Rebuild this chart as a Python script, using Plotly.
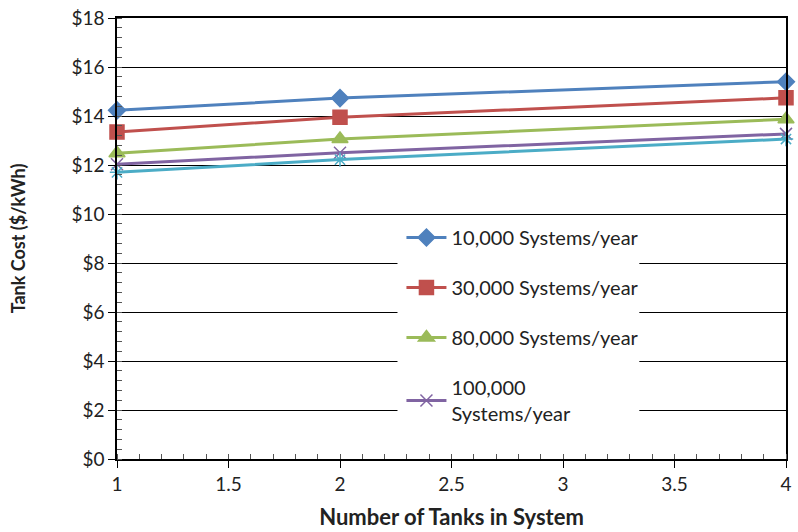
import plotly.graph_objects as go

# Tank cost vs. number of tanks, by annual production volume
tanks = [1, 2, 4]
series_names = [
    "10,000 Systems/year",
    "30,000 Systems/year",
    "80,000 Systems/year",
    "100,000<br>Systems/year",
    "500,000 Systems/year",
]
cost_10k = [14.23, 14.73, 15.40]
cost_30k = [13.35, 13.95, 14.74]
cost_80k = [12.48, 13.06, 13.87]
cost_100k = [12.03, 12.50, 13.27]
cost_500k = [11.70, 12.22, 13.06]

y_ticks = list(range(0, 19, 2))
y_tick_labels = [f"${v}" for v in y_ticks]
x_ticks = [1, 1.5, 2, 2.5, 3, 3.5, 4]
x_tick_labels = ["1", "1.5", "2", "2.5", "3", "3.5", "4"]

FONT = "Lato, Open Sans, sans-serif"

styles = [
    dict(color="#4F81BD", symbol="diamond", size=13, legend=True),
    dict(color="#C0504D", symbol="square", size=14, legend=True),
    dict(color="#9BBB59", symbol="triangle-up", size=14, legend=True),
    dict(color="#8064A2", symbol="x-thin-open", size=12, legend=True),
    dict(color="#4BACC6", symbol="asterisk-open", size=12, legend=False),
]
values = [cost_10k, cost_30k, cost_80k, cost_100k, cost_500k]

fig = go.Figure()
for i, (name, vals, st) in enumerate(zip(series_names, values, styles)):
    fig.add_trace(go.Scatter(
        x=tanks, y=vals, name=name, mode="lines+markers",
        line=dict(color=st["color"], width=3),
        marker=dict(symbol=st["symbol"], size=st["size"], color=st["color"],
                    line=dict(color=st["color"], width=1.5)),
        showlegend=st["legend"], legendgroup=f"g{i}",
        cliponaxis=False,
    ))

# white panel behind the legend hides the grid lines there
fig.add_shape(type="rect", xref="paper", yref="paper",
              x0=(400 - 117) / 675, x1=(644 - 117) / 675,
              y0=(459 - 432) / 443, y1=(459 - 220) / 443,
              fillcolor="white", line=dict(width=0), layer="above")

fig.update_layout(
    width=798, height=532,
    margin=dict(l=117, r=6, t=16, b=73),
    paper_bgcolor="white", plot_bgcolor="white",
    font=dict(family=FONT, size=19, color="#222222"),
    legend=dict(
        x=(404 - 117) / 675, y=(459 - 217) / 443,
        xanchor="left", yanchor="top",
        bgcolor="rgba(0,0,0,0)", borderwidth=0,
        font=dict(family=FONT, size=20, color="#222222"),
        tracegroupgap=21, traceorder="grouped",
        itemwidth=40,
    ),
    xaxis=dict(
        range=[1, 4], tickmode="array", tickvals=x_ticks, ticktext=x_tick_labels,
        showgrid=False, zeroline=False,
        showline=True, linecolor="#000000", linewidth=1.5, mirror=True,
        ticks="outside", ticklen=7, tickcolor="#000000",
        minor=dict(dtick=0.1, ticks="inside", ticklen=5, tickcolor="#555555", showgrid=False),
        tickfont=dict(size=19),
        title=dict(text="<b>Number of Tanks in System</b>", font=dict(size=22), standoff=16),
    ),
    yaxis=dict(
        range=[0, 18], tickmode="array", tickvals=y_ticks, ticktext=y_tick_labels,
        showgrid=True, gridcolor="#000000", gridwidth=1, zeroline=False,
        showline=True, linecolor="#000000", linewidth=1.5, mirror=True,
        ticks="outside", ticklen=7, tickcolor="#000000",
        minor=dict(dtick=0.4, ticks="inside", ticklen=5, tickcolor="#555555", showgrid=False),
        tickfont=dict(size=19),
        title=dict(text="<b>Tank Cost ($/kWh)</b>", font=dict(size=18), standoff=41),
    ),
)

fig.write_html("out.html")
